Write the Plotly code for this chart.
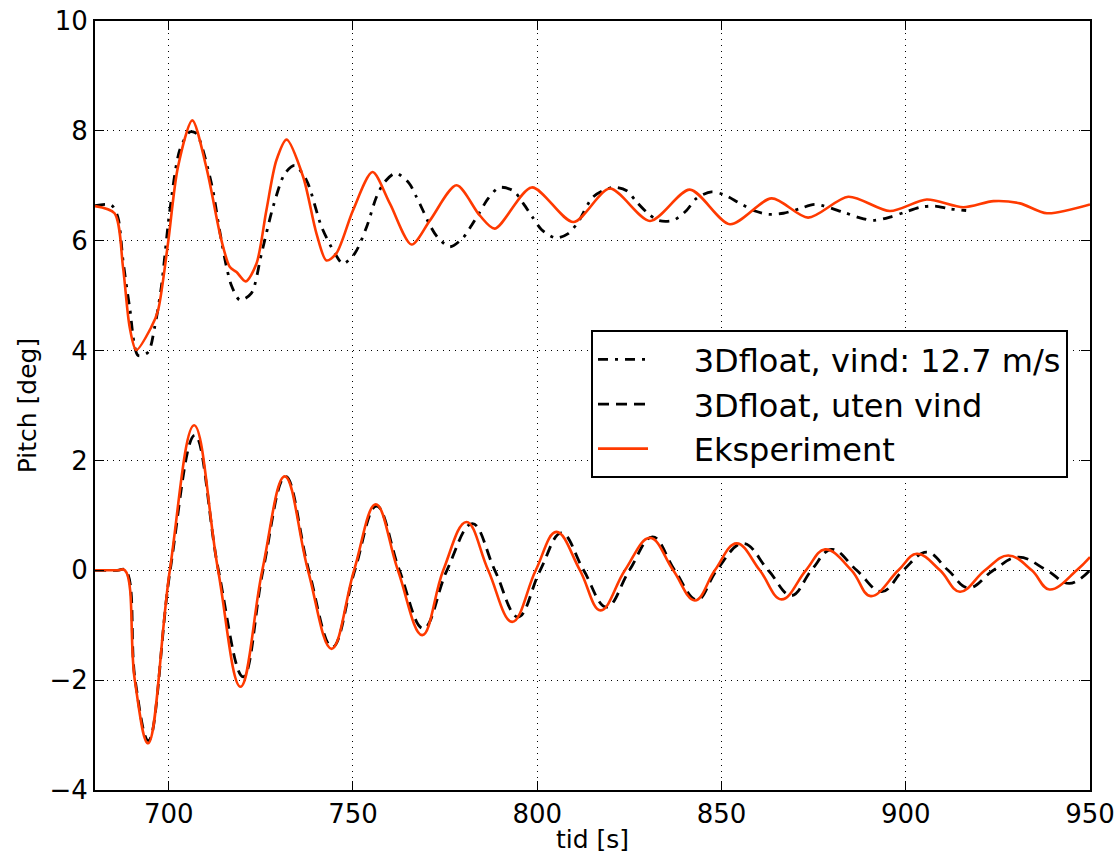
import plotly.graph_objects as go

# Time axis [s] and pitch [deg] for each series
# 3Dfloat with wind 12.7 m/s (upper curve, dash-dot)
t_wind = [680.0, 684.4, 686.2, 687.6, 689.4, 691.7, 694.4, 696.2, 698.0, 700.3, 703.0, 705.7,
          707.5, 711.6, 713.8, 715.7, 717.0, 719.3, 722.4, 725.2, 728.3, 731.5, 734.2, 737.4,
          741.5, 745.1, 747.3, 750.5, 753.7, 756.4, 758.6, 761.6, 765.2, 767.2, 769.0, 770.9,
          773.1, 776.3, 779.7, 782.2, 784.4, 786.7, 789.7, 793.5, 796.2, 798.7, 801.2, 805.0,
          808.4, 811.1, 815.2, 820.5, 824.3, 826.8, 829.7, 832.8, 836.9, 840.5, 843.2, 847.3,
          850.9, 855.0, 859.1, 862.7, 866.8, 871.1, 875.4, 883.0, 887.4, 891.2, 895.7, 899.8,
          903.9, 907.9, 912.0, 916.4]
p_wind = [6.64, 6.65, 6.43, 5.64, 4.79, 3.91, 3.97, 4.43, 5.16, 6.55, 7.65, 7.98,
          7.95, 7.04, 6.19, 5.52, 5.19, 4.92, 5.04, 5.77, 6.61, 7.22, 7.37, 7.10,
          6.25, 5.77, 5.58, 5.77, 6.25, 6.80, 7.07, 7.23, 7.05, 6.80, 6.55, 6.28,
          6.05, 5.89, 6.04, 6.28, 6.52, 6.77, 6.97, 6.91, 6.68, 6.43, 6.20, 6.05,
          6.13, 6.34, 6.80, 6.97, 6.91, 6.72, 6.52, 6.37, 6.37, 6.55, 6.77, 6.89,
          6.83, 6.68, 6.54, 6.48, 6.50, 6.58, 6.66, 6.52, 6.42, 6.37, 6.43, 6.52,
          6.61, 6.63, 6.58, 6.55]

# 3Dfloat without wind (lower curve, dashed)
t_nowind = [680.0, 686.0, 688.3, 690.9, 694.5, 700.4, 707.1, 713.5,
            720.2, 725.6, 731.7, 738.0, 744.4, 750.5, 756.4, 762.6, 769.1, 775.5,
            782.4, 788.5, 794.8, 800.8, 806.6, 812.6, 818.8, 825.0, 831.3, 837.3, 843.4, 848.7,
            855.9, 862.7, 869.0, 874.4, 879.9, 886.7, 893.5, 899.3, 905.7, 911.5, 917.0, 923.8,
            930.5, 938.3, 944.4, 950.0]
p_nowind = [0.0, 0.0, 0.0, -2.0, -3.1, 0.0, 2.46, 0.0,
            -1.94, 0.0, 1.71, 0.0, -1.40, 0.0, 1.17, 0.0, -1.06, 0.0,
            0.85, 0.0, -0.85, 0.0, 0.68, 0.0, -0.67, 0.0, 0.61, 0.0, -0.54, 0.0,
            0.49, 0.0, -0.46, 0.0, 0.38, 0.0, -0.39, 0.0, 0.33, 0.0, -0.32, 0.0,
            0.24, 0.0, -0.24, 0.0]

# Experiment, with wind (upper red curve)
t_exp_w = [680.0, 685.3, 687.6, 689.4, 691.2, 695.3, 697.1, 699.8, 702.5, 706.4, 710.2, 714.3,
           716.6, 718.4, 720.9, 723.8, 726.5, 729.2, 732.0, 736.5, 740.1, 742.8, 745.5, 750.0,
           755.3, 760.0, 765.9, 770.9, 778.1, 784.4, 788.5, 798.5, 809.8, 819.7, 830.6, 841.4,
           852.3, 863.6, 873.5, 884.4, 895.7, 905.7, 915.6, 923.8, 931.0, 938.3, 950.0]
p_exp_w = [6.63, 6.50, 5.52, 4.43, 4.01, 4.43, 4.73, 5.95, 7.34, 8.19, 7.34, 6.01,
           5.52, 5.43, 5.26, 5.58, 6.55, 7.46, 7.84, 7.16, 6.13, 5.64, 5.77, 6.55,
           7.25, 6.68, 5.93, 6.37, 7.01, 6.46, 6.22, 6.97, 6.34, 6.95, 6.36, 6.93,
           6.30, 6.77, 6.42, 6.80, 6.54, 6.75, 6.61, 6.72, 6.68, 6.50, 6.66]

# Experiment, without wind (lower red curve)
t_exp = [680.0, 686.0, 688.1, 690.8, 694.4, 700.3, 706.9, 713.4,
         719.5, 725.4, 731.5, 737.8, 744.2, 750.3, 756.2, 762.2, 768.8, 774.5,
         780.8, 786.7, 793.2, 799.6, 805.2, 811.6, 817.2, 823.8, 830.6, 836.9, 842.8, 848.2,
         854.1, 860.4, 866.3, 872.9, 878.1, 885.3, 890.5, 898.0, 903.0, 909.3, 914.7, 921.5,
         927.8, 934.2, 939.0, 946.4, 950.0]
p_exp = [0.0, 0.0, 0.0, -2.0, -3.15, 0.0, 2.64, 0.0,
         -2.12, 0.0, 1.71, 0.0, -1.43, 0.0, 1.20, 0.0, -1.18, 0.0,
         0.88, 0.0, -0.94, 0.0, 0.70, 0.0, -0.73, 0.0, 0.59, 0.0, -0.55, 0.0,
         0.49, 0.0, -0.53, 0.0, 0.38, 0.0, -0.47, 0.0, 0.30, 0.0, -0.39, 0.0,
         0.27, 0.0, -0.35, 0.0, 0.24]

x_ticks = [700, 750, 800, 850, 900, 950]
y_ticks = [-4, -2, 0, 2, 4, 6, 8, 10]

RED = "#ff3a00"
FONT = "DejaVu Sans"
SMOOTH = 1.15
GAP = "\u00a0" * 4  # space between legend sample line and label

fig = go.Figure()
fig.add_trace(go.Scatter(x=t_wind, y=p_wind, mode="lines", name=GAP + "3Dfloat, vind: 12.7 m/s",
                         line=dict(color="black", width=2.8, dash="10px,7px,3px,7px",
                                   shape="spline", smoothing=0.8)))
fig.add_trace(go.Scatter(x=t_nowind, y=p_nowind, mode="lines", name=GAP + "3Dfloat, uten vind",
                         line=dict(color="black", width=2.8, dash="11px,7px",
                                   shape="spline", smoothing=SMOOTH)))
fig.add_trace(go.Scatter(x=t_exp, y=p_exp, mode="lines", name=GAP + "Eksperiment",
                         line=dict(color=RED, width=2.6, shape="spline", smoothing=SMOOTH)))
fig.add_trace(go.Scatter(x=t_exp_w, y=p_exp_w, mode="lines", name="Eksperiment",
                         showlegend=False,
                         line=dict(color=RED, width=2.6, shape="spline", smoothing=0.8)))

axis_common = dict(
    showline=True, linecolor="black", linewidth=2, mirror="ticks",
    ticks="inside", ticklen=9, tickwidth=1, tickcolor="black",
    showgrid=True, gridcolor="black", gridwidth=1, griddash="1px,5px",
    zeroline=False, automargin=False,
    tickfont=dict(family=FONT, size=26, color="black"),
)

fig.update_xaxes(range=[680, 950], tickvals=x_ticks, **axis_common,
                 title=dict(text="tid [s]", font=dict(family=FONT, size=25, color="black"),
                            standoff=0))
fig.update_yaxes(range=[-4, 10], tickvals=y_ticks,
                 ticktext=[str(v).replace("-", "\u2212") for v in y_ticks], **axis_common,
                 title=dict(text="Pitch [deg]", font=dict(family=FONT, size=25, color="black"),
                            standoff=6))

fig.update_layout(
    width=1117, height=854,
    margin=dict(l=95, r=27, t=21, b=64),
    paper_bgcolor="white", plot_bgcolor="white",
    font=dict(family=FONT, color="black"),
    legend=dict(x=0.4985, y=0.598, xanchor="left", yanchor="top",
                bgcolor="white", bordercolor="black", borderwidth=2,
                font=dict(family=FONT, size=32, color="black"),
                tracegroupgap=0, itemwidth=50),
    showlegend=True,
)

fig.write_html("out.html")
